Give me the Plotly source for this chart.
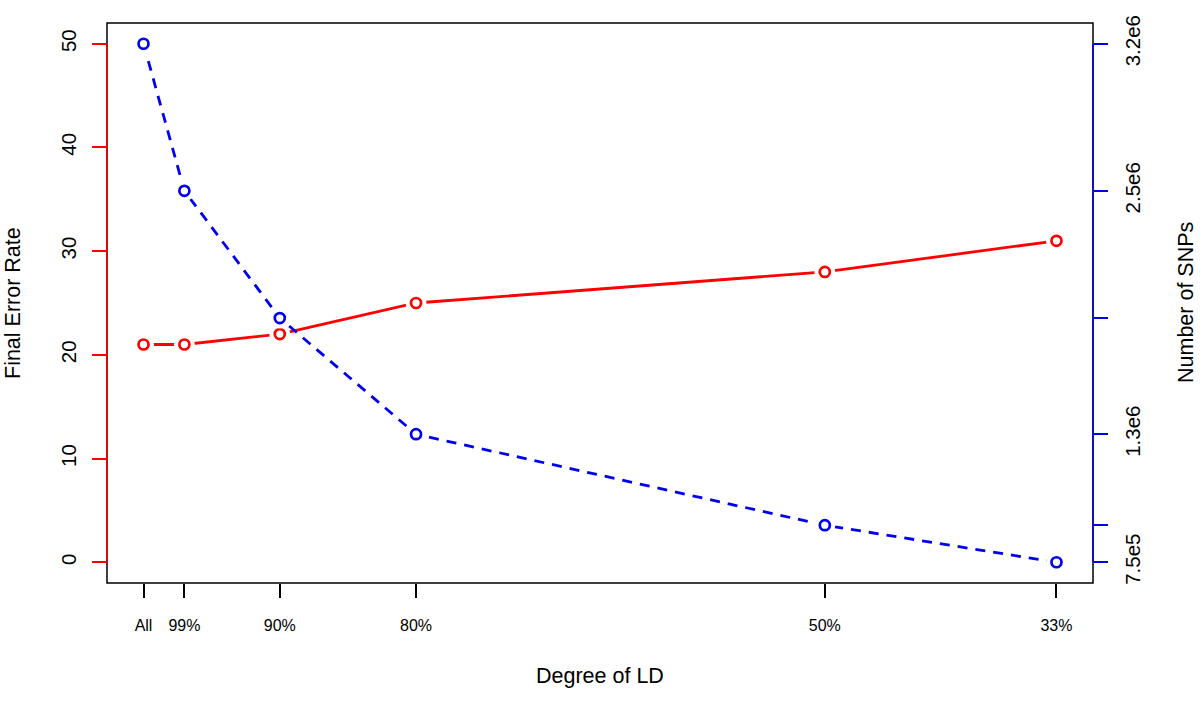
import plotly.graph_objects as go

# ---- data ----
ld_labels = ["All", "99%", "90%", "80%", "50%", "33%"]
ld_pos = [0, 3, 10, 20, 50, 67]
error_rate = [21, 21, 22, 25, 28, 31]
n_snps = [3.2e6, 2.505e6, 1.904e6, 1.355e6, 9.25e5, 7.5e5]
snp_tick_text = ["3.2e6", "2.5e6", "", "1.3e6", "", "7.5e5"]
err_ticks = [0, 10, 20, 30, 40, 50]

RED = "#ff0000"
BLUE = "#0000ee"
FONT = "Liberation Sans, Arial, Helvetica, sans-serif"


def padded(vals, frac=0.04):
    lo, hi = min(vals), max(vals)
    d = (hi - lo) * frac
    return [lo - d, hi + d]


fig = go.Figure()

# red series (left axis)
fig.add_trace(go.Scatter(x=ld_pos, y=error_rate, mode="lines",
                         line=dict(color=RED, width=2.8), yaxis="y",
                         showlegend=False, hoverinfo="skip"))
fig.add_trace(go.Scatter(x=ld_pos, y=error_rate, mode="markers",
                         marker=dict(size=21, color="white", line=dict(width=0)),
                         yaxis="y", showlegend=False, hoverinfo="skip"))
fig.add_trace(go.Scatter(x=ld_pos, y=error_rate, mode="markers",
                         marker=dict(symbol="circle-open", size=10, color=RED,
                                     line=dict(width=2.7, color=RED)),
                         yaxis="y", showlegend=False))

# blue series (right axis)
fig.add_trace(go.Scatter(x=ld_pos, y=n_snps, mode="lines",
                         line=dict(color=BLUE, width=2.8, dash="10px,8px"),
                         yaxis="y2", showlegend=False, hoverinfo="skip"))
fig.add_trace(go.Scatter(x=ld_pos, y=n_snps, mode="markers",
                         marker=dict(size=21, color="white", line=dict(width=0)),
                         yaxis="y2", showlegend=False, hoverinfo="skip"))
fig.add_trace(go.Scatter(x=ld_pos, y=n_snps, mode="markers",
                         marker=dict(symbol="circle-open", size=10, color=BLUE,
                                     line=dict(width=2.7, color=BLUE)),
                         yaxis="y2", showlegend=False))

fig.update_layout(
    width=1200, height=706,
    margin=dict(l=107, r=107, t=23, b=123, pad=0, autoexpand=False),
    paper_bgcolor="white", plot_bgcolor="white",
    font=dict(family=FONT, color="black", size=20),
    xaxis=dict(range=padded(ld_pos), tickvals=ld_pos, ticktext=ld_labels,
               showgrid=False, zeroline=False, showline=False, automargin=False,
               ticks="outside", ticklen=14, tickwidth=1.5, tickcolor="black",
               tickfont=dict(size=16), ticklabelstandoff=14),
    yaxis=dict(range=padded(err_ticks), tickvals=err_ticks,
               showgrid=False, zeroline=False, showline=False, automargin=False,
               ticks="outside", ticklen=14, tickwidth=1.5, tickcolor=RED,
               tickangle=-90, tickfont=dict(size=20.5), ticklabelstandoff=8),
    yaxis2=dict(range=padded(n_snps), tickvals=n_snps, ticktext=snp_tick_text,
                overlaying="y", side="right", automargin=False,
                showgrid=False, zeroline=False, showline=False,
                ticks="outside", ticklen=14, tickwidth=1.5, tickcolor=BLUE,
                tickangle=-90, tickfont=dict(size=20.5), ticklabelstandoff=7),
    shapes=[
        dict(type="rect", xref="paper", yref="paper", x0=0, x1=1, y0=0, y1=1,
             line=dict(color="black", width=1.5), layer="above"),
        dict(type="line", xref="paper", yref="y", x0=0, x1=0,
             y0=min(err_ticks), y1=max(err_ticks),
             line=dict(color=RED, width=1.5), layer="above"),
        dict(type="line", xref="paper", yref="y2", x0=1, x1=1,
             y0=min(n_snps), y1=max(n_snps),
             line=dict(color=BLUE, width=1.5), layer="above"),
    ],
    annotations=[
        dict(text="Final Error Rate", xref="paper", yref="paper", x=0, y=0.5,
             xanchor="center", yanchor="middle", xshift=-94, textangle=-90,
             showarrow=False, font=dict(size=21.5)),
        dict(text="Number of SNPs", xref="paper", yref="paper", x=1, y=0.5,
             xanchor="center", yanchor="middle", xshift=93, textangle=-90,
             showarrow=False, font=dict(size=21.5)),
        dict(text="Degree of LD", xref="paper", yref="paper", x=0.5, y=0,
             xanchor="center", yanchor="middle", yshift=-93,
             showarrow=False, font=dict(size=21.5)),
    ],
)

fig.write_html("out.html",
               config={"displayModeBar": False},
               post_script="document.body.style.margin='0';"
                           "document.body.style.overflow='hidden';")
